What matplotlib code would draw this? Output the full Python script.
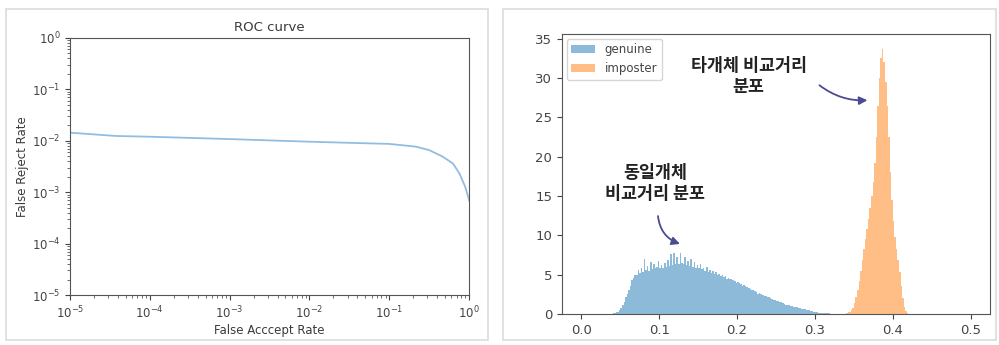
import numpy as np
import matplotlib
matplotlib.use("Agg")
import matplotlib.pyplot as plt
from matplotlib.patches import Rectangle
from matplotlib.ticker import LogLocator, NullFormatter

# ROC curve: false accept rate vs false reject rate
FAR = [1e-5, 3.8e-5, 1e-4, 1e-3, 1e-2, 1e-1, 0.215, 0.316, 0.47, 0.63, 0.76, 0.89, 0.98, 1.0]
FRR = [0.0144, 0.0124, 0.0120, 0.0108, 0.0096, 0.0087, 0.0077, 0.0066, 0.0049,
       0.0036, 0.0023, 0.0013, 0.0008, 0.0007]

# distance histograms (bin heights, density)
GEN_START, GEN_WIDTH = 0.030, 0.002
GENUINE = [
    0.02, 0.03, 0.03, 0.05, 0.06, 0.1, 0.12, 0.2, 0.3, 0.45,
    0.8, 1.2, 1.5, 2.1, 2.6, 3.0, 3.6, 4.3, 4.6, 4.9,
    5.0, 5.6, 5.2, 5.9, 5.4, 7.0, 5.6, 6.1, 5.5, 6.6,
    5.7, 6.3, 5.8, 6.0, 6.8, 5.9, 6.2, 5.8, 6.5, 6.0,
    6.9, 6.1, 7.6, 6.2, 7.8, 6.4, 7.3, 6.3, 7.7, 6.5,
    6.4, 7.2, 6.2, 6.8, 6.1, 7.0, 6.0, 6.6, 5.9, 6.2,
    5.8, 6.4, 5.7, 5.9, 5.5, 6.0, 5.4, 5.6, 5.2, 5.5,
    5.1, 5.3, 4.9, 5.1, 4.8, 4.9, 4.7, 4.8, 4.5, 4.6,
    4.5, 4.4, 4.3, 4.2, 4.0, 4.1, 3.9, 3.8, 3.6, 3.7,
    3.5, 3.4, 3.3, 3.2, 3.0, 3.1, 2.9, 2.8, 2.6, 2.7,
    2.5, 2.4, 2.3, 2.3, 2.1, 2.1, 2.0, 1.9, 1.8, 1.8,
    1.7, 1.6, 1.5, 1.5, 1.4, 1.3, 1.2, 1.2, 1.1, 1.0,
    1.0, 0.95, 0.9, 0.85, 0.8, 0.72, 0.68, 0.62, 0.58, 0.55,
    0.5, 0.45, 0.4, 0.36, 0.3, 0.27, 0.22, 0.18, 0.16, 0.14,
    0.12, 0.1, 0.09, 0.08, 0.07, 0.06, 0.05, 0.05, 0.04, 0.03,
]
IMP_START, IMP_WIDTH = 0.340, 0.002
IMPOSTER = [
    0.1, 0.2, 0.3, 0.5, 0.8, 1.4, 2.2, 3.1, 4.2, 5.5,
    6.9, 8.2, 9.5, 10.8, 12.1, 13.5, 15.0, 16.8, 19.2, 22.5,
    26.5, 30.0, 32.5, 33.7, 32.0, 29.5, 26.5, 22.5, 18.0, 14.5,
    11.8, 9.8, 8.2, 6.9, 5.4, 3.6, 2.0, 0.9, 0.35, 0.1,
]

KO_FONT = ["Noto Sans CJK KR", "DejaVu Sans"]
ARROW_COLOR = "#4b4b8f"
TEXT_COLOR = "#3a3a3a"


def edges(start, width, n):
    return start + width * np.arange(n + 1)


fig = plt.figure(figsize=(9.99, 3.45), dpi=100)

# light frames around each panel
for x0, x1 in [(6, 488), (503, 996)]:
    fig.patches.append(Rectangle((x0 / 999, 5 / 345), (x1 - x0) / 999, 331 / 345,
                                 transform=fig.transFigure, fill=False,
                                 edgecolor="#dcdcdc", linewidth=1.2))

# --- ROC curve ---
ax1 = fig.add_axes([0.0701, 0.1449, 0.3994, 0.745])
ax1.plot(FAR, FRR, color="#92bde0", linewidth=1.3)
ax1.set_xscale("log")
ax1.set_yscale("log")
ax1.set_xlim(1e-5, 1)
ax1.set_ylim(1e-5, 1)
for axis in (ax1.xaxis, ax1.yaxis):
    axis.set_minor_locator(LogLocator(base=10, subs=np.arange(2, 10), numticks=50))
    axis.set_minor_formatter(NullFormatter())
ax1.set_title("ROC curve", fontsize=9.5, color=TEXT_COLOR, pad=5)
ax1.set_xlabel("False Acccept Rate", fontsize=8.5, color=TEXT_COLOR, labelpad=2)
ax1.set_ylabel("False Reject Rate", fontsize=8.5, color=TEXT_COLOR, labelpad=2)
ax1.tick_params(labelsize=8.5, colors="#444444")
ax1.tick_params(which="minor", colors="#555555")
for s in ax1.spines.values():
    s.set_color("#555555")

# --- distance distributions ---
ax2 = fig.add_axes([0.5626, 0.0899, 0.4284, 0.8116])
ge = edges(GEN_START, GEN_WIDTH, len(GENUINE))
ie = edges(IMP_START, IMP_WIDTH, len(IMPOSTER))
ax2.hist(ge[:-1], bins=ge, weights=GENUINE, histtype="stepfilled",
         color="#1f77b4", alpha=0.5, label="genuine")
ax2.hist(ie[:-1], bins=ie, weights=IMPOSTER, histtype="stepfilled",
         color="#ff7f0e", alpha=0.5, label="imposter")
ax2.set_xlim(-0.025, 0.525)
ax2.set_ylim(0, 35.6)
ax2.set_yticks(range(0, 36, 5))
ax2.set_xticks([0.0, 0.1, 0.2, 0.3, 0.4, 0.5])
ax2.tick_params(labelsize=9.5, colors="#444444")
for s in ax2.spines.values():
    s.set_color("#555555")
ax2.legend(loc="upper left", fontsize=8.5, labelcolor="#444444", handlelength=2.0,
           borderaxespad=0.4)

ax2.text(0.095, 16.6, "동일개체\n비교거리 분포", ha="center", va="center",
         fontsize=12.5, fontweight="bold", family=KO_FONT, linespacing=1.2,
         color="#222222")
ax2.text(0.215, 30.2, "타개체 비교거리\n분포", ha="center", va="center",
         fontsize=12.5, fontweight="bold", family=KO_FONT, linespacing=1.2,
         color="#222222")

ax2.annotate("", xy=(0.130, 8.8), xytext=(0.098, 12.8),
             arrowprops=dict(arrowstyle="-|>", color=ARROW_COLOR, lw=1.3,
                             mutation_scale=12, connectionstyle="arc3,rad=0.35"))
ax2.annotate("", xy=(0.371, 27.2), xytext=(0.303, 29.3),
             arrowprops=dict(arrowstyle="-|>", color=ARROW_COLOR, lw=1.3,
                             mutation_scale=12, connectionstyle="arc3,rad=0.2"))

fig.savefig("out.png", dpi=100)
